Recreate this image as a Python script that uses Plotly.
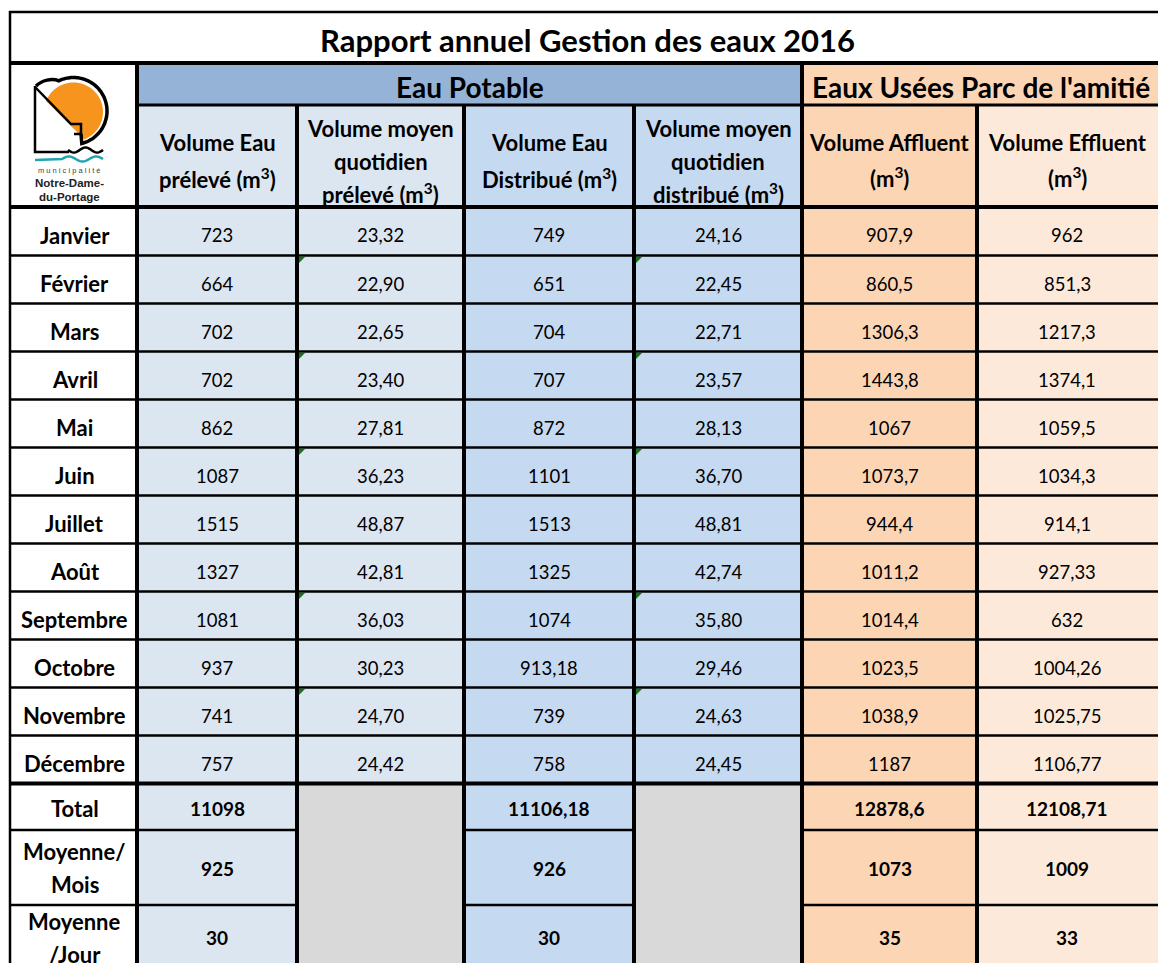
import numpy as np
import plotly.graph_objects as go

# ---------------- data ----------------
title = "Rapport annuel Gestion des eaux 2016"
group_potable = "Eau Potable"
group_usees = "Eaux Usées Parc de l'amitié"

months = ["Janvier", "Février", "Mars", "Avril", "Mai", "Juin", "Juillet",
          "Août", "Septembre", "Octobre", "Novembre", "Décembre"]

vol_preleve = [723, 664, 702, 702, 862, 1087, 1515, 1327, 1081, 937, 741, 757]
moy_quot_preleve = [23.32, 22.90, 22.65, 23.40, 27.81, 36.23, 48.87, 42.81, 36.03, 30.23, 24.70, 24.42]
vol_distribue = [749, 651, 704, 707, 872, 1101, 1513, 1325, 1074, 913.18, 739, 758]
moy_quot_distribue = [24.16, 22.45, 22.71, 23.57, 28.13, 36.70, 48.81, 42.74, 35.80, 29.46, 24.63, 24.45]
vol_affluent = [907.9, 860.5, 1306.3, 1443.8, 1067, 1073.7, 944.4, 1011.2, 1014.4, 1023.5, 1038.9, 1187]
vol_effluent = [962, 851.3, 1217.3, 1374.1, 1059.5, 1034.3, 914.1, 927.33, 632, 1004.26, 1025.75, 1106.77]

summary_labels = [["Total"], ["Moyenne/", "Mois"], ["Moyenne", "/Jour"]]
total_vals = [11098, 11106.18, 12878.6, 12108.71]      # prélevé, distribué, affluent, effluent
moy_mois_vals = [925, 926, 1073, 1009]
moy_jour_vals = [30, 30, 35, 33]

header_cols = [
    ["Volume Eau", "prélevé (m<sup>3</sup>)"],
    ["Volume moyen", "quotidien", "prélevé (m<sup>3</sup>)"],
    ["Volume Eau", "Distribué (m<sup>3</sup>)"],
    ["Volume moyen", "quotidien", "distribué (m<sup>3</sup>)"],
    ["Volume Affluent", "(m<sup>3</sup>)"],
    ["Volume Effluent", "(m<sup>3</sup>)"],
]
flag_rows = [1, 3, 5, 8, 10]   # cells with Excel green error markers

# ---------------- layout geometry (pixels) ----------------
W, H = 1158, 963
xe = [10, 137, 297, 464, 634, 802, 977, 1160]   # column edges
y_top, y_title, y_band, y_head = 12, 63, 105, 207
row_h = 48
row_edges = [y_head] + [y_head + 0.5 + row_h * (k + 1) for k in range(12)]
y_sum = [row_edges[-1], 830, 905, 990]

C_LIGHT = "#DCE6F1"
C_MID = "#C5D9F1"
C_BAND = "#95B3D7"
C_OR1 = "#FCD5B4"
C_OR2 = "#FDE9D9"
C_GRAY = "#D9D9D9"
col_fill = [C_LIGHT, C_LIGHT, C_MID, C_MID, C_OR1, C_OR2]

FONT = "Lato, Carlito, Calibri, 'Open Sans', sans-serif"
LOGO_FONT = "'Liberation Sans', Arial, sans-serif"
S_DATA = 18.5
S_LABEL = 22
S_HEAD = 22


def fmt(v, dec=None):
    if dec is not None:
        return f"{v:.{dec}f}".replace(".", ",")
    return str(v).replace(".", ",")


shapes = []
ann = []


def rect(x0, y0, x1, y1, color):
    shapes.append(dict(type="rect", x0=x0, y0=y0, x1=x1, y1=y1,
                       fillcolor=color, line=dict(width=0), layer="below"))


def hline(y, x0, x1, w):
    shapes.append(dict(type="line", x0=x0, x1=x1, y0=y, y1=y,
                       line=dict(color="black", width=w)))


def vline(x, y0, y1, w):
    shapes.append(dict(type="line", x0=x, x1=x, y0=y0, y1=y1,
                       line=dict(color="black", width=w)))


def text(x, y, s, size=16, bold=False, color="black", family=FONT):
    ann.append(dict(x=x, y=y, text=(f"<b>{s}</b>" if bold else s), showarrow=False,
                    xanchor="center", yanchor="middle",
                    font=dict(family=family, size=size, color=color)))


def col_center(c):
    return (xe[c + 1] + xe[c + 2]) / 2 if c < 5 else 1067


# ---------------- fills ----------------
rect(xe[1], y_title, xe[5], y_band, C_BAND)
rect(xe[5], y_title, xe[7], y_band, C_OR1)
for c in range(6):
    rect(xe[c + 1], y_band, xe[c + 2], y_sum[-1], col_fill[c])
for c in (1, 3):
    rect(xe[c + 1], y_sum[0], xe[c + 2], y_sum[-1], C_GRAY)

# ---------------- texts ----------------
text(587, 40, title, size=31, bold=True)
text((xe[1] + xe[5]) / 2, 87, group_potable, size=28, bold=True)
text(981, 87, group_usees, size=28, bold=True)

for c, lines in enumerate(header_cols):
    ys = [142, 178] if len(lines) == 2 else [128, 161, 193]
    if c >= 4:
        ys = [142, 177]
    for yy, s in zip(ys, lines):
        text(col_center(c), yy, s, size=S_HEAD, bold=True)

series = [(vol_preleve, None), (moy_quot_preleve, 2), (vol_distribue, None),
          (moy_quot_distribue, 2), (vol_affluent, None), (vol_effluent, None)]
for r, m in enumerate(months):
    cy = (row_edges[r] + row_edges[r + 1]) / 2 + 4
    text((xe[0] + xe[1]) / 2 + 1, cy, m, size=S_LABEL, bold=True)
    for c, (vals, dec) in enumerate(series):
        text(col_center(c), cy, fmt(vals[r], dec), size=S_DATA)

sum_rows = [total_vals, moy_mois_vals, moy_jour_vals]
label_y = [[808], [851, 884], [921, 954]]
value_y = [808, 868, 937]
val_cols = [0, 2, 4, 5]
for i, vals in enumerate(sum_rows):
    for yy, s in zip(label_y[i], summary_labels[i]):
        text((xe[0] + xe[1]) / 2 + 1, yy, s, size=S_LABEL, bold=True)
    for c, v in zip(val_cols, vals):
        text(col_center(c), value_y[i], fmt(v), size=S_DATA + 0.5, bold=True)

# ---------------- grid lines ----------------
hline(y_top, xe[0] - 1, xe[-1], 2.5)
hline(y_title, xe[0], xe[-1], 4)
hline(y_band, xe[1], xe[-1], 3)
hline(y_head, xe[0], xe[-1], 4)
for y in row_edges[1:-1]:
    hline(y, xe[0], xe[-1], 2.5)
hline(row_edges[-1], xe[0], xe[-1], 4)
for y in y_sum[1:3]:
    hline(y, xe[0], xe[2], 2.5)
    hline(y, xe[3], xe[4], 2.5)
    hline(y, xe[5], xe[-1], 2.5)
vline(xe[0], y_top - 1, H + 5, 2.5)
vline(xe[1], y_title, H + 5, 4)
vline(xe[5], y_title, H + 5, 4)
for x in (xe[2], xe[3], xe[4], xe[6]):
    vline(x, y_band, H + 5, 4)

# green error markers
for r in flag_rows:
    for c in (1, 3):
        x0 = xe[c + 1] + 2
        y0 = row_edges[r] + 1.5
        shapes.append(dict(type="path",
                           path=f"M {x0},{y0} L {x0 + 6},{y0} L {x0},{y0 + 6} Z",
                           fillcolor="#0B7A0B", line=dict(width=0)))

# ---------------- logo ----------------
cx0, cy0, r0 = 73.5, 112, 29.5
t = np.linspace(0, 2 * np.pi, 180)
px = cx0 + r0 * np.cos(t)
py = cy0 + r0 * np.sin(t)
lim = 90 + 1.0 * (px - 35)
py = np.minimum(py, lim)
orange_path = "M " + " L ".join(f"{a:.1f},{b:.1f}" for a, b in zip(px, py)) + " Z"
shapes.append(dict(type="path", path=orange_path, fillcolor="#F7941D",
                   line=dict(width=0)))

tt = np.linspace(-np.pi / 2 - 0.45, np.pi / 2 - 0.25, 80)
ax_ = 73.5 + 33.5 * np.cos(tt)
ay_ = 111 + 33.5 * np.sin(tt)
arc = "M 36,86 C 42,80 52,78 " + f"{ax_[0]:.1f},{ay_[0]:.1f} " + \
      " ".join(f"L {a:.1f},{b:.1f}" for a, b in zip(ax_, ay_)) + " L 81,134"
shapes.append(dict(type="path", path=arc, line=dict(color="black", width=3.5)))
shapes.append(dict(type="path",
                   path="M 35,87 L 71,124 L 81,124 L 81,134 L 74,134",
                   line=dict(color="black", width=2.5)))
shapes.append(dict(type="path", path="M 35,86 L 35,152 L 69,152",
                   line=dict(color="black", width=2.5)))
wx = np.linspace(68, 103, 40)
wy = 150 + 2.6 * np.sin((wx - 68) / 35 * 3 * np.pi)
shapes.append(dict(type="path",
                   path="M " + " L ".join(f"{a:.1f},{b:.1f}" for a, b in zip(wx, wy)),
                   line=dict(color="black", width=2.5)))
wx2 = np.linspace(62, 103, 40)
wy2 = 159 - 2.6 * np.sin((wx2 - 62) / 41 * 3 * np.pi)
shapes.append(dict(type="path",
                   path="M 35,160 L 62,159 " + " ".join(f"L {a:.1f},{b:.1f}" for a, b in zip(wx2, wy2)),
                   line=dict(color="#1EA4B4", width=2.5)))
text(69, 170, "m u n i c i p a l i t é", size=7.5, color="#444444", family=LOGO_FONT)
text(69, 183, "Notre-Dame-", size=11.5, bold=True, color="#222222", family=LOGO_FONT)
text(69, 197, "du-Portage", size=11.5, bold=True, color="#222222", family=LOGO_FONT)

fig = go.Figure()
fig.update_layout(
    width=W, height=H,
    margin=dict(l=0, r=0, t=0, b=0),
    paper_bgcolor="white", plot_bgcolor="white",
    xaxis=dict(range=[0, W], visible=False, fixedrange=True),
    yaxis=dict(range=[H, 0], visible=False, fixedrange=True),
    shapes=shapes, annotations=ann, showlegend=False,
)
fig.write_html("out.html",
               config={"displayModeBar": False},
               post_script="document.body.style.margin='0px';"
                           "document.body.style.overflow='hidden';")
